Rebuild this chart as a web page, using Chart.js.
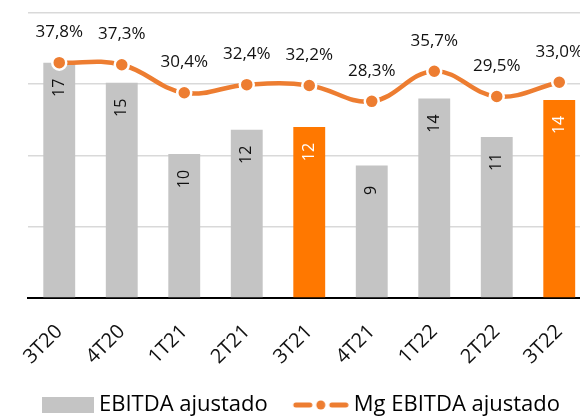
<!DOCTYPE html>
<html>
<head>
<meta charset="utf-8">
<script src="https://cdn.jsdelivr.net/npm/chart.js@4.4.0/dist/chart.umd.min.js"></script>
<style>
  html, body { margin: 0; padding: 0; background: #fff; overflow: hidden; }
  #wrap { position: absolute; left: -24px; top: 0; width: 624px; height: 426px; }
</style>
</head>
<body>
<div id="wrap"><canvas id="ebitdaChart"></canvas></div>
<script>
// EBITDA ajustado (barras) e margem (linha) por trimestre
const quarters = ['3T20', '4T20', '1T21', '2T21', '3T21', '4T21', '1T22', '2T22', '3T22'];
const ebitdaValues = [16.5, 15.1, 10.1, 11.8, 12.0, 9.3, 14.0, 11.3, 13.9];
const marginValues = [37.8, 37.3, 30.4, 32.4, 32.2, 28.3, 35.7, 29.5, 33.0];
const highlightQuarters = ['3T21', '3T22'];

const FONT = '"Open Sans", "Noto Sans", sans-serif';
const GREY = '#C4C4C4';
const ORANGE = '#FF7800';
const LINE = '#ED7D31';
const TEXT = '#111111';

const barColors = quarters.map(q => highlightQuarters.includes(q) ? ORANGE : GREY);

// legend swatches: drawn right-aligned inside a wider image so the gap to the text stays small
const SWATCH_W = 84;
function swatchBar() {
  const c = document.createElement('canvas');
  c.width = SWATCH_W; c.height = 16;
  const g = c.getContext('2d');
  g.fillStyle = GREY;
  g.fillRect(SWATCH_W - 52, 0, 52, 16);
  return c;
}
function swatchLine() {
  const c = document.createElement('canvas');
  c.width = SWATCH_W; c.height = 14;
  const g = c.getContext('2d');
  const x0 = SWATCH_W - 56;
  g.strokeStyle = LINE;
  g.lineWidth = 5;
  g.lineCap = 'round';
  g.beginPath(); g.moveTo(x0 + 3, 7); g.lineTo(x0 + 17, 7); g.stroke();
  g.beginPath(); g.moveTo(x0 + 39, 7); g.lineTo(x0 + 53, 7); g.stroke();
  g.fillStyle = LINE;
  g.beginPath(); g.arc(x0 + 28, 7, 4.5, 0, Math.PI * 2); g.fill();
  return c;
}

const valueLabels = {
  id: 'valueLabels',
  afterDatasetsDraw(chart) {
    const ctx = chart.ctx;
    const bars = chart.getDatasetMeta(0).data;
    const points = chart.getDatasetMeta(1).data;
    ctx.save();
    ctx.textAlign = 'center';
    ctx.textBaseline = 'middle';

    ctx.font = '16px ' + FONT;
    bars.forEach((bar, i) => {
      ctx.save();
      ctx.translate(bar.x, bar.y + 25);
      ctx.rotate(-Math.PI / 2);
      ctx.fillStyle = highlightQuarters.includes(quarters[i]) ? '#FFFFFF' : TEXT;
      ctx.fillText(String(Math.round(ebitdaValues[i])), 0, 0);
      ctx.restore();
    });

    ctx.font = '17px ' + FONT;
    ctx.fillStyle = TEXT;
    points.forEach((pt, i) => {
      ctx.fillText(marginValues[i].toFixed(1).replace('.', ',') + '%', pt.x, pt.y - 30.5);
    });
    ctx.restore();
  }
};

new Chart(document.getElementById('ebitdaChart'), {
  data: {
    labels: quarters,
    datasets: [
      {
        type: 'bar',
        label: 'EBITDA ajustado',
        data: ebitdaValues,
        yAxisID: 'y',
        order: 2,
        backgroundColor: barColors,
        barPercentage: 0.51,
        categoryPercentage: 1,
      },
      {
        type: 'line',
        label: 'Mg EBITDA ajustado',
        data: marginValues,
        yAxisID: 'yMargin',
        order: 1,
        borderColor: LINE,
        borderWidth: 4.5,
        tension: 0.4,
        pointRadius: 7,
        pointBackgroundColor: LINE,
        pointBorderColor: '#FFFFFF',
        pointBorderWidth: 2.5,
      },
    ],
  },
  options: {
    responsive: true,
    maintainAspectRatio: false,
    animation: false,
    layout: { padding: { left: 0, right: 0, top: 13, bottom: 0 } },
    plugins: {
      tooltip: { enabled: false },
      legend: {
        position: 'bottom',
        labels: {
          usePointStyle: true,
          pointStyleWidth: 72,
          padding: 3,
          color: TEXT,
          font: { family: FONT, size: 22 },
          generateLabels: () => [
            { text: 'EBITDA ajustado', pointStyle: swatchBar(), fillStyle: GREY, strokeStyle: GREY, lineWidth: 0, datasetIndex: 0 },
            { text: 'Mg EBITDA ajustado', pointStyle: swatchLine(), fillStyle: LINE, strokeStyle: LINE, lineWidth: 0, datasetIndex: 1 },
          ],
        },
      },
    },
    scales: {
      x: {
        grid: { display: false, drawTicks: false },
        border: { display: true, color: '#000000', width: 2 },
        ticks: {
          color: TEXT,
          font: { family: FONT, size: 20 },
          minRotation: 45,
          maxRotation: 45,
          padding: 22,
        },
      },
      y: {
        min: 0,
        max: 20,
        ticks: { display: false, stepSize: 5 },
        grid: { color: '#D9D9D9', lineWidth: 1.5, drawTicks: false },
        border: { display: false },
        afterFit: scale => { scale.width = 52; },
      },
      yMargin: {
        display: false,
        min: -20,
        max: 50,
      },
    },
  },
  plugins: [valueLabels],
});
</script>
</body>
</html>
